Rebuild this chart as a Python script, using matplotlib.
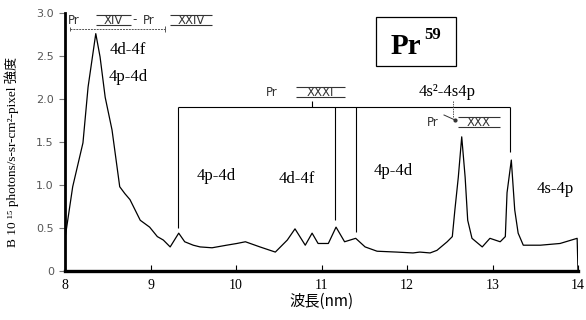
"""Pr (Z=59) EUV emission spectrum, 8-14 nm."""
import matplotlib
matplotlib.use("Agg")
import matplotlib.pyplot as plt
from matplotlib.patches import Rectangle

# spectrum (wavelength nm, intensity)
wavelength = [8.00, 8.02, 8.09, 8.21, 8.27, 8.36, 8.41, 8.47, 8.55, 8.64,
              8.70, 8.76, 8.88, 8.99, 9.08, 9.15, 9.23, 9.33, 9.40, 9.50,
              9.58, 9.72, 9.89, 10.01, 10.11, 10.28, 10.46, 10.60, 10.69, 10.81,
              10.89, 10.96, 11.08, 11.17, 11.27, 11.40, 11.51, 11.65, 11.88, 12.07,
              12.15, 12.27, 12.35, 12.47, 12.53, 12.56, 12.60, 12.64, 12.68, 12.71,
              12.76, 12.88, 12.97, 13.09, 13.15, 13.17, 13.22, 13.26, 13.30, 13.36,
              13.56, 13.79, 13.99, 14.00]
intensity = [0.38, 0.51, 0.98, 1.49, 2.14, 2.76, 2.49, 2.02, 1.64, 0.98,
             0.90, 0.83, 0.59, 0.51, 0.40, 0.36, 0.28, 0.44, 0.34, 0.30,
             0.28, 0.27, 0.30, 0.32, 0.34, 0.28, 0.22, 0.36, 0.49, 0.30,
             0.44, 0.32, 0.32, 0.51, 0.34, 0.38, 0.28, 0.23, 0.22, 0.21,
             0.22, 0.21, 0.24, 0.34, 0.40, 0.71, 1.09, 1.56, 1.09, 0.59,
             0.38, 0.28, 0.38, 0.34, 0.40, 0.91, 1.29, 0.71, 0.44, 0.30,
             0.30, 0.32, 0.38, 0.0]

x_ticks = [8, 9, 10, 11, 12, 13, 14]
y_ticks = [0, 0.5, 1.0, 1.5, 2.0, 2.5, 3.0]
y_tick_labels = ["0", "0.5", "1.0", "1.5", "2.0", "2.5", "3.0"]

SERIF = ["Liberation Serif", "DejaVu Serif", "Noto Sans CJK JP"]
CJK = ["Noto Sans CJK JP", "Liberation Serif"]


# annotation positions were measured in pixels on the original scan
def px2x(px):
    return 8 + (px - 65) / 85.5


def px2y(py):
    return (271 - py) / 86.0


fig = plt.figure(figsize=(5.86, 3.2), dpi=100)
ax = fig.add_axes([65 / 586, 1 - 271 / 320, 513 / 586, 258 / 320])

ax.plot(wavelength, intensity, color="black", lw=0.9)
ax.set_xlim(8, 14)
ax.set_ylim(0, 3.0)

for s in ("top", "right"):
    ax.spines[s].set_visible(False)
ax.spines["left"].set_linewidth(2.0)
ax.spines["bottom"].set_linewidth(2.4)

ax.set_xticks(x_ticks)
ax.set_xticklabels([str(t) for t in x_ticks], family=SERIF, fontsize=10)
ax.tick_params(axis="x", direction="in", length=4, width=0.8, pad=6)
ax.set_yticks(y_ticks)
ax.set_yticklabels(y_tick_labels, family="DejaVu Sans", fontsize=8, color="#555555")
ax.tick_params(axis="y", direction="out", length=4, width=0.8, color="#777777", pad=4)

ax.set_xlabel("波長(nm)", family=CJK, fontsize=11, labelpad=0)
fig.text(12 / 586, 1 - 152 / 320, "B 10 ¹⁵ photons/s-sr-cm²-pixel 強度",
         rotation=90, ha="center", va="center", family=SERIF, fontsize=9.5)

# transition labels
lab = dict(family=SERIF, fontsize=12, ha="center", va="center")
ax.text(px2x(128), px2y(50), "4d-4f", **lab)
ax.text(px2x(128), px2y(77), "4p-4d", **lab)
ax.text(px2x(216), px2y(176), "4p-4d", **lab)
ax.text(px2x(297), px2y(179), "4d-4f", **lab)
ax.text(px2x(393), px2y(171), "4p-4d", **lab)
ax.text(px2x(555), px2y(189), "4s-4p", **lab)
ax.text(px2x(447), px2y(92), "4s²-4s4p", **lab)

# ion stage labels with barred roman numerals
ion = dict(family="DejaVu Sans", fontsize=8.5, color="#333333", va="center")


def roman(px0, px1, py, txt):
    ax.text(px2x((px0 + px1) / 2), px2y(py), txt, ha="center",
            fontstretch="expanded", **ion)
    ax.hlines([px2y(py - 5), px2y(py + 5)], px2x(px0), px2x(px1), color="#333333", lw=0.8)


ax.text(px2x(68), px2y(20), "Pr", ha="left", **ion)
roman(96, 131, 20, "XIV")
ax.text(px2x(135), px2y(20), "-", ha="center", **ion)
ax.text(px2x(143), px2y(20), "Pr", ha="left", **ion)
roman(170, 212, 20, "XXIV")
ax.hlines(px2y(29), px2x(70), px2x(165), color="#555555", lw=0.7, linestyles=(0, (2, 1)))
ax.vlines(px2x(165), px2y(32), px2y(26), color="#555555", lw=0.7)
ax.vlines(px2x(70), px2y(31), px2y(27), color="#555555", lw=0.7)

# big bracket over the 4p-4d / 4d-4f group
bk = dict(color="black", lw=0.8)
ax.hlines(px2y(107), px2x(178), px2x(510), **bk)
ax.vlines(px2x(178), px2y(228), px2y(107), **bk)
ax.vlines(px2x(510), px2y(152), px2y(107), **bk)
ax.vlines(px2x(335), px2y(220), px2y(107), **bk)
ax.vlines(px2x(356), px2y(232), px2y(107), **bk)
ax.vlines(px2x(312), px2y(107), px2y(101), **bk)
ax.text(px2x(266), px2y(92), "Pr", ha="left", **ion)
roman(296, 345, 92, "XXXI")

ax.text(px2x(427), px2y(123), "Pr", ha="left", **ion)
roman(458, 500, 122, "XXX")
ax.vlines(px2x(453), px2y(117), px2y(100), color="#555555", lw=0.7, linestyles=(0, (1.5, 1)))
ax.plot([px2x(444), px2x(455)], [px2y(115), px2y(120)], color="#333333", lw=0.7)
ax.plot([px2x(455)], [px2y(120)], "o", color="#333333", ms=2)

# element box
fig.patches.append(Rectangle((376 / 586, 1 - 66 / 320), 80 / 586, 49 / 320,
                             transform=fig.transFigure, fill=False,
                             edgecolor="black", lw=0.9))
fig.text(406 / 586, 1 - 46 / 320, "Pr", family=SERIF, fontsize=21,
         fontweight="bold", ha="center", va="center")
fig.text(433 / 586, 1 - 35 / 320, "59", family=SERIF, fontsize=12,
         fontweight="bold", ha="center", va="center")

fig.savefig("out.png", dpi=100)
